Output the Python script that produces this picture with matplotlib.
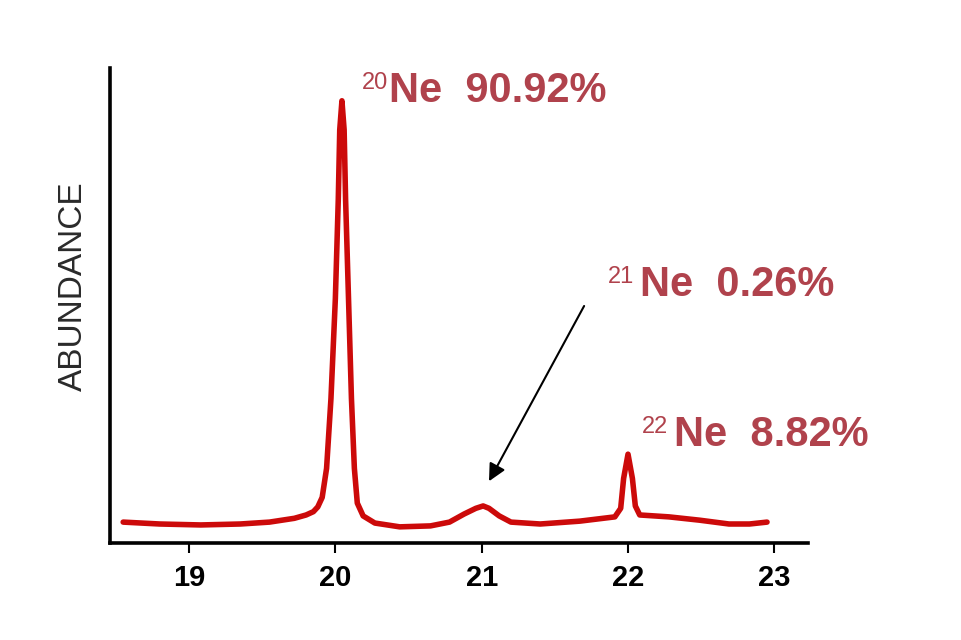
import matplotlib
matplotlib.use("Agg")
import matplotlib.pyplot as plt

plt.rcParams['font.family'] = ['Liberation Sans', 'DejaVu Sans']

# espectro de masas del neón
masa = [18.55, 18.80, 19.08, 19.35, 19.55, 19.72, 19.80, 19.85, 19.88, 19.91, 19.94,
        19.97, 20.00, 20.02, 20.03, 20.045, 20.06, 20.07, 20.09, 20.11, 20.13,
        20.15, 20.19, 20.27, 20.44, 20.65, 20.78, 20.88, 20.96, 21.01, 21.05,
        21.12, 21.20, 21.40, 21.67, 21.91, 21.95, 21.97, 22.00, 22.03, 22.05,
        22.08, 22.28, 22.49, 22.69, 22.83, 22.95]
abundancia = [4.4, 4.0, 3.8, 4.0, 4.4, 5.2, 5.9, 6.6, 7.6, 9.6, 15.7,
              30.4, 51.4, 72.3, 87.0, 93.1, 87.0, 72.3, 51.4, 30.4, 15.7,
              8.4, 5.7, 4.2, 3.4, 3.6, 4.4, 6.1, 7.3, 7.8, 7.3,
              5.7, 4.4, 4.0, 4.6, 5.5, 7.3, 13.6, 18.7, 13.6, 7.8,
              5.9, 5.5, 4.8, 4.0, 4.0, 4.4]

ticks = [19, 20, 21, 22, 23]
isotopos = ['20', '21', '22']
porcentajes = ['90.92%', '0.26%', '8.82%']

color_linea = '#cc0a0a'
color_texto = '#b0424c'

fig = plt.figure(figsize=(9.62, 6.4), dpi=100)
ax = fig.add_axes([110 / 962, 1 - 543 / 640, 698 / 962, 475 / 640])

ax.plot(masa, abundancia, color=color_linea, lw=4, solid_joinstyle='round',
        solid_capstyle='round')

ax.set_xlim(18.46, 23.23)
ax.set_ylim(0, 100)
ax.set_xticks(ticks)
ax.set_xticklabels([str(t) for t in ticks], fontsize=21, fontweight='bold')
ax.set_yticks([])
ax.tick_params(axis='x', length=7, width=1.5, pad=8, direction='out')
for s in ['top', 'right']:
    ax.spines[s].set_visible(False)
for s in ['left', 'bottom']:
    ax.spines[s].set_linewidth(2.6)

fig.text(73 / 962, 1 - 286 / 640, 'ABUNDANCE', rotation=90, fontsize=24,
         ha='center', va='center', color='#2a2a2a')

# etiquetas de los isótopos (posiciones en píxeles de la figura)
pos_sup = [(362, 72), (608, 266), (642, 416)]
pos_txt = [(389, 102), (640, 296), (674, 446)]
for iso, pct, (sx, sy), (tx, ty) in zip(isotopos, porcentajes, pos_sup, pos_txt):
    fig.text(sx / 962, 1 - sy / 640, iso, fontsize=17, color=color_texto,
             ha='left', va='top')
    fig.text(tx / 962, 1 - ty / 640, 'Ne  ' + pct, fontsize=30,
             fontweight='bold', color=color_texto, ha='left', va='baseline')

# flecha hacia el pico del 21Ne
ax.annotate('', xy=(21.05, 13.0), xytext=(21.70, 49.9),
            arrowprops=dict(arrowstyle='-|>', lw=1.5, color='black',
                            mutation_scale=26, shrinkA=0, shrinkB=0))

fig.savefig('out.png', dpi=100)
